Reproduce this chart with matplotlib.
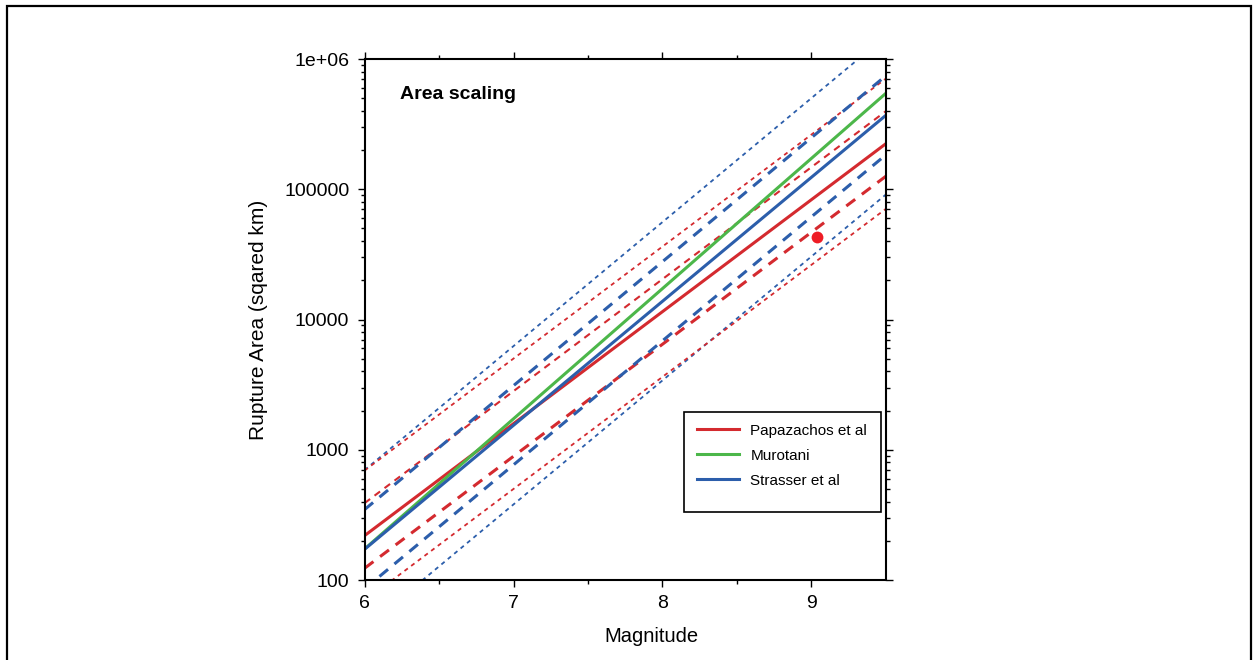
import matplotlib
matplotlib.use("Agg")
import matplotlib.pyplot as plt
from matplotlib.patches import Rectangle
from matplotlib.ticker import LogLocator, NullFormatter, FixedLocator

plt.rcParams['font.family'] = ['Liberation Sans', 'DejaVu Sans']
plt.rcParams['lines.scale_dashes'] = False

# Magnitudes at the two ends of every scaling line
mag_ends = [6.0, 9.5]

# Papazachos et al: mean, +-1 sigma, +-2 sigma (area at M=6 and M=9.5)
papa_mean = [219, 224000]
papa_up1 = [389, 398000]
papa_lo1 = [123, 126000]
papa_up2 = [692, 708000]
papa_lo2 = [69, 70800]

# Murotani
muro_mean = [173, 546000]

# Strasser et al
stra_mean = [172, 370000]
stra_up1 = [347, 745000]
stra_lo1 = [85.5, 184000]
stra_up2 = [698, 1500000]
stra_lo2 = [42.5, 91200]

# Observed event
event_mag = [9.04]
event_area = [43000]

legend_labels = ['Papazachos et al', 'Murotani', 'Strasser et al']

RED = '#d42a2f'
GREEN = '#4cb74a'
BLUE = '#2c5eab'

fig = plt.figure(figsize=(12.54, 6.6), dpi=100)
ax = fig.add_axes([0.2907, 0.1212, 0.4158, 0.7894])

# desvios de 2 sigma (pontilhado fino)
dot = (0, (3, 3))
ax.plot(mag_ends, stra_up2, color=BLUE, lw=1.3, ls=dot)
ax.plot(mag_ends, stra_lo2, color=BLUE, lw=1.3, ls=dot)
ax.plot(mag_ends, papa_up2, color=RED, lw=1.3, ls=dot)
ax.plot(mag_ends, papa_lo2, color=RED, lw=1.3, ls=dot)

# desvios de 1 sigma (tracejado)
ax.plot(mag_ends, papa_up1, color=RED, lw=1.5, ls=(0, (5, 4)))
ax.plot(mag_ends, stra_up1, color=BLUE, lw=2.2, ls=(0, (8, 6)))
ax.plot(mag_ends, papa_lo1, color=RED, lw=2.2, ls=(0, (8, 6)))
ax.plot(mag_ends, stra_lo1, color=BLUE, lw=2.2, ls=(0, (8, 6)))

# relações médias
l1, = ax.plot(mag_ends, papa_mean, color=RED, lw=2.2)
l2, = ax.plot(mag_ends, muro_mean, color=GREEN, lw=2.2)
l3, = ax.plot(mag_ends, stra_mean, color=BLUE, lw=2.2)

ax.plot(event_mag, event_area, 'o', color='#ee1c25', ms=8.5, mec='none')

ax.set_yscale('log')
ax.set_xlim(6, 9.5)
ax.set_ylim(100, 1e6)

ax.xaxis.set_major_locator(FixedLocator([6, 7, 8, 9]))
ax.xaxis.set_minor_locator(FixedLocator([6.5, 7.5, 8.5]))
ax.set_yticks([100, 1000, 10000, 100000, 1000000])
ax.set_yticklabels(['100', '1000', '10000', '100000', '1e+06'])
ax.yaxis.set_minor_locator(LogLocator(base=10, subs=range(2, 10)))
ax.yaxis.set_minor_formatter(NullFormatter())

ax.tick_params(which='both', direction='out', top=True, right=True,
               width=1.0, labelsize=14)
ax.tick_params(which='major', length=5)
ax.tick_params(which='minor', length=3)
ax.tick_params(axis='x', which='major', pad=6)
ax.tick_params(axis='y', which='major', pad=6)
for s in ax.spines.values():
    s.set_linewidth(1.5)

ax.set_xlabel('Magnitude', fontsize=14.5)
ax.set_ylabel('Rupture Area (sqared km)', fontsize=15, va='center')
ax.xaxis.set_label_coords(0.551, -0.09)
ax.yaxis.set_label_coords(-0.204, 0.5)

ax.text(0.068, 0.931, 'Area scaling', transform=ax.transAxes,
        fontsize=14, fontweight='bold', va='center', ha='left')

# legenda com caixa desenhada à mão
ax.add_patch(Rectangle((0.6127, 0.1305), 0.378, 0.192, transform=ax.transAxes,
                       fill=True, facecolor='white', edgecolor='black',
                       lw=1.2, zorder=5))
leg = ax.legend([l1, l2, l3], legend_labels, loc='upper left',
                bbox_to_anchor=(0.625, 0.312), frameon=False, fontsize=11,
                handlelength=2.8, labelspacing=0.72, handletextpad=0.72,
                borderaxespad=0)
leg.set_zorder(6)

# moldura em volta da figura
fig.add_artist(Rectangle((7 / 1254, -0.05), 1244 / 1254, 1.05 - 6 / 660,
                         transform=fig.transFigure, fill=False,
                         edgecolor='black', lw=1.6))

fig.savefig('out.png', dpi=100)
